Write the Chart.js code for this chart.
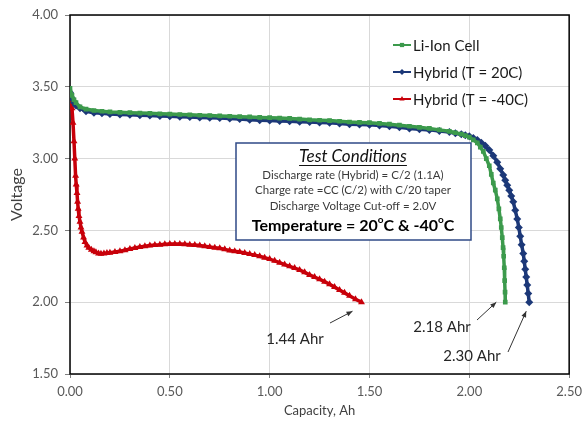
<!DOCTYPE html>
<html><head><meta charset="utf-8">
<script src="https://cdn.jsdelivr.net/npm/chart.js@4/dist/chart.umd.min.js"></script>
<style>html,body{margin:0;padding:0;background:#fff}canvas{display:block}</style>
</head><body>
<canvas id="c" width="588" height="422"></canvas>
<script>
/* ===== data ===== */
const liionCap=[0,0.01,0.02,0.03,0.05,0.08,0.12,0.16,0.2,0.25,0.3,0.35,0.4,0.45,0.5,0.55,0.6,0.65,0.7,0.75,0.8,0.85,0.9,0.95,1.0,1.05,1.1,1.15,1.2,1.25,1.3,1.35,1.4,1.45,1.5,1.55,1.6,1.65,1.7,1.75,1.8,1.85,1.9,1.93,1.96,1.98,2.0,2.02,2.04,2.055,2.07,2.085,2.1,2.11,2.12,2.13,2.14,2.148,2.155,2.16,2.165,2.169,2.172,2.175,2.177,2.179,2.18];
const liionV=[3.49,3.44,3.41,3.39,3.36,3.345,3.335,3.33,3.325,3.322,3.32,3.317,3.315,3.312,3.31,3.307,3.305,3.302,3.30,3.297,3.295,3.292,3.29,3.287,3.285,3.282,3.28,3.275,3.27,3.267,3.265,3.26,3.255,3.252,3.25,3.245,3.24,3.233,3.225,3.218,3.21,3.20,3.19,3.18,3.17,3.16,3.15,3.13,3.11,3.08,3.05,3.00,2.95,2.89,2.83,2.78,2.72,2.65,2.58,2.52,2.45,2.38,2.32,2.24,2.15,2.07,2.00];
const hyb20Cap=[0,0.01,0.02,0.03,0.05,0.08,0.12,0.16,0.2,0.25,0.3,0.35,0.4,0.45,0.5,0.55,0.6,0.65,0.7,0.75,0.8,0.85,0.9,0.95,1.0,1.05,1.1,1.15,1.2,1.25,1.3,1.35,1.4,1.45,1.5,1.55,1.6,1.65,1.7,1.75,1.8,1.85,1.9,1.93,1.96,1.98,2.0,2.02,2.04,2.06,2.08,2.1,2.12,2.14,2.155,2.17,2.18,2.19,2.2,2.21,2.22,2.23,2.24,2.248,2.255,2.262,2.27,2.275,2.28,2.285,2.29,2.295,2.30];
const hyb20V=[3.46,3.42,3.39,3.37,3.35,3.33,3.32,3.315,3.31,3.307,3.305,3.302,3.30,3.297,3.295,3.292,3.29,3.287,3.285,3.282,3.28,3.275,3.27,3.267,3.265,3.262,3.26,3.257,3.255,3.252,3.25,3.245,3.24,3.237,3.235,3.23,3.225,3.218,3.21,3.205,3.20,3.192,3.185,3.177,3.17,3.162,3.155,3.143,3.13,3.11,3.09,3.06,3.02,2.975,2.93,2.885,2.85,2.815,2.78,2.74,2.70,2.64,2.58,2.52,2.46,2.40,2.34,2.285,2.23,2.175,2.12,2.06,2.00];
const hybM40Cap=[0,0.005,0.01,0.015,0.02,0.024,0.028,0.031,0.035,0.038,0.041,0.045,0.05,0.055,0.06,0.068,0.075,0.085,0.094,0.107,0.12,0.13,0.143,0.155,0.17,0.185,0.2,0.225,0.25,0.275,0.3,0.325,0.35,0.375,0.4,0.425,0.45,0.475,0.5,0.525,0.55,0.575,0.6,0.625,0.65,0.675,0.7,0.725,0.75,0.775,0.8,0.825,0.85,0.875,0.9,0.925,0.95,0.975,1.0,1.025,1.05,1.075,1.1,1.125,1.15,1.175,1.2,1.225,1.25,1.275,1.3,1.325,1.35,1.375,1.4,1.43,1.46];
const hybM40V=[3.43,3.40,3.35,3.25,3.12,3.0,2.88,2.82,2.76,2.70,2.65,2.60,2.56,2.52,2.49,2.45,2.42,2.395,2.38,2.365,2.355,2.348,2.34,2.338,2.34,2.342,2.345,2.35,2.355,2.362,2.37,2.378,2.385,2.39,2.395,2.398,2.40,2.403,2.405,2.405,2.405,2.403,2.40,2.398,2.395,2.39,2.385,2.38,2.375,2.368,2.36,2.355,2.35,2.343,2.335,2.328,2.32,2.31,2.30,2.288,2.275,2.262,2.25,2.238,2.225,2.208,2.19,2.175,2.16,2.143,2.125,2.105,2.085,2.065,2.045,2.02,2.00];
const seriesNames=['Li-Ion Cell','Hybrid (T = 20C)','Hybrid (T = -40C)'];
const xTicks=[0,0.5,1,1.5,2,2.5], yTicks=[1.5,2,2.5,3,3.5,4];
const endCaps=[1.46,2.18,2.30], endLabels=['1.44 Ahr','2.18 Ahr','2.30 Ahr'], cutoffV=2.0;
const boxLines=['Discharge rate (Hybrid) = C/2 (1.1A)','Charge rate =CC (C/2) with C/20 taper','Discharge Voltage Cut-off = 2.0V'];

const FONT='Lato, "Open Sans", sans-serif';
const pts=(xs,ys)=>xs.map((x,i)=>({x,y:ys[i]}));
const ds=(label,data,color,style,r)=>({label,data,borderColor:color,backgroundColor:color,borderWidth:3.5,
  pointStyle:style,pointRadius:r,pointBorderWidth:0,pointHoverRadius:r,tension:0});

/* ===== plugin: frame, legend, text box, annotations ===== */
const extras={id:'extras',
  beforeDatasetsDraw(c){const a=c.chartArea,x=c.ctx;x.save();x.strokeStyle='#000';x.lineWidth=1.5;
    x.strokeRect(a.left,a.top,a.right-a.left,a.bottom-a.top);x.restore();},
  afterDraw(c){
    const x=c.ctx,sx=c.scales.x,sy=c.scales.y;x.save();
    /* legend */
    c.data.datasets.forEach((d,i)=>{const y=45+i*27;
      x.strokeStyle=d.borderColor;x.lineWidth=2;x.beginPath();x.moveTo(393,y);x.lineTo(411,y);x.stroke();
      x.fillStyle=d.borderColor;Chart.helpers.drawPoint(x,{pointStyle:d.pointStyle,radius:3,borderWidth:0},402,y);
      x.fillStyle='#1a1a1a';x.font='15px '+FONT;x.textBaseline='middle';x.textAlign='left';x.fillText(d.label,413,y+1);
    });
    /* text box */
    x.fillStyle='#fff';x.fillRect(236,143,235,97);
    x.strokeStyle='#2f4a86';x.lineWidth=1.5;x.strokeRect(236,143,235,97);
    x.textAlign='center';x.textBaseline='middle';x.fillStyle='#111';
    x.font='italic 17px '+FONT;x.fillText('Test Conditions',353,157);
    const tw=x.measureText('Test Conditions').width;x.lineWidth=1;x.strokeStyle='#111';
    x.beginPath();x.moveTo(353-tw/2,165.5);x.lineTo(353+tw/2,165.5);x.stroke();
    x.font='11.5px '+FONT;x.fillStyle='#3a3a3a';
    boxLines.forEach((t,i)=>x.fillText(t,353,175+i*15.5));
    /* Temperature line with superscript o */
    const parts=[['Temperature = 20',0],['o',1],['C & -40',0],['o',1],['C',0]];
    const big='bold 16px '+FONT,sm='bold 10px '+FONT;
    let w=0;parts.forEach(([t,s])=>{x.font=s?sm:big;w+=x.measureText(t).width;});
    let px=353-w/2;x.textAlign='left';x.fillStyle='#000';
    parts.forEach(([t,s])=>{x.font=s?sm:big;x.fillText(t,px,s?220:226);px+=x.measureText(t).width;});
    /* end annotations */
    const ann=[{tx:295,ty:339,ax:330,ay:323,dx:-9,dy:9},{tx:442,ty:327,ax:477,ay:320,dx:-9,dy:0},{tx:472,ty:356,ax:508,ay:352,dx:-3,dy:9}];
    x.font='15px '+FONT;x.textAlign='center';x.fillStyle='#262626';
    ann.forEach((a,i)=>{
      x.fillText(endLabels[i],a.tx,a.ty);
      const hx=sx.getPixelForValue(endCaps[i])+a.dx,hy=sy.getPixelForValue(cutoffV)+a.dy;
      x.strokeStyle='#333';x.lineWidth=1;x.beginPath();x.moveTo(a.ax,a.ay);x.lineTo(hx,hy);x.stroke();
      const ang=Math.atan2(hy-a.ay,hx-a.ax),L=6,W=2.5;
      x.beginPath();x.moveTo(hx,hy);
      x.lineTo(hx-L*Math.cos(ang)+W*Math.sin(ang),hy-L*Math.sin(ang)-W*Math.cos(ang));
      x.lineTo(hx-L*Math.cos(ang)-W*Math.sin(ang),hy-L*Math.sin(ang)+W*Math.cos(ang));
      x.closePath();x.fillStyle='#333';x.fill();x.fillStyle='#262626';
    });
    x.restore();
  }};

new Chart(document.getElementById('c'),{type:'line',
  data:{datasets:[
    ds(seriesNames[0],pts(liionCap,liionV),'#3c9a4c','rect',3.3),
    ds(seriesNames[1],pts(hyb20Cap,hyb20V),'#1c3878','rectRot',4),
    ds(seriesNames[2],pts(hybM40Cap,hybM40V),'#c8000a','triangle',4)]},
  options:{responsive:false,animation:false,devicePixelRatio:1,
    layout:{padding:{top:15,right:12,left:0,bottom:0}},
    plugins:{legend:{display:false},tooltip:{enabled:false}},
    scales:{
      x:{type:'linear',min:0,max:2.5,afterBuildTicks:s=>{s.ticks=xTicks.map(v=>({value:v}));},
        afterFit:s=>{s.height=48;},
        ticks:{callback:v=>v.toFixed(2),color:'#595959',font:{family:FONT,size:13},padding:6,maxRotation:0},
        grid:{color:'#d9d9d9',tickColor:'#808080',tickLength:4},border:{display:false},
        title:{display:true,text:'Capacity, Ah',color:'#404040',font:{family:FONT,size:13},padding:{top:0,bottom:3}}},
      y:{min:1.5,max:4,afterBuildTicks:s=>{s.ticks=yTicks.map(v=>({value:v}));},
        afterFit:s=>{s.width=70;},
        ticks:{callback:v=>v.toFixed(2),color:'#595959',font:{family:FONT,size:13},padding:7},
        grid:{color:'#d9d9d9',tickColor:'#808080',tickLength:5},border:{display:false},
        title:{display:true,text:'Voltage',color:'#404040',font:{family:FONT,size:16},padding:{top:7,bottom:0}}}
    }},
  plugins:[extras]});
</script>
</body></html>
